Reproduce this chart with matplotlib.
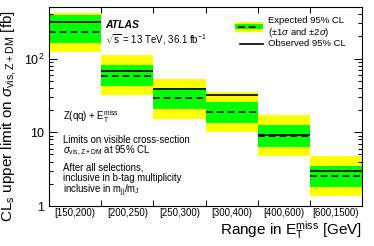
import numpy as np
import matplotlib
matplotlib.use("Agg")
import matplotlib.pyplot as plt
from matplotlib.patches import Rectangle
from matplotlib.lines import Line2D
from matplotlib.ticker import FixedLocator, FixedFormatter, LogLocator, NullFormatter

plt.rcParams['font.family'] = ['Liberation Sans', 'DejaVu Sans']
plt.rcParams['mathtext.fontset'] = 'custom'
plt.rcParams['mathtext.rm'] = 'Liberation Sans'
plt.rcParams['mathtext.it'] = 'Liberation Sans:italic'
plt.rcParams['mathtext.bf'] = 'Liberation Sans:bold'

categories = ['[150,200)', '[200,250)', '[250,300)', '[300,400)', '[400,600)', '[600,1500)']
observed = [316, 68.7, 38.7, 31.7, 9.04, 2.99]
expected = [226, 58.7, 28.8, 18.6, 8.88, 2.56]
plus1 = [391, 82.8, 39.4, 25.4, 12.5, 3.53]
minus1 = [164, 42.9, 20.7, 13.3, 6.41, 1.81]
plus2 = [419, 110, 52.9, 34.8, 16.9, 4.79]
minus2 = [122, 31.7, 15.3, 9.94, 4.79, 1.355]

fig = plt.figure(figsize=(3.74, 2.46), dpi=100)
ax = fig.add_axes([0.131, 0.1626, 0.837, 0.809])

x = np.arange(len(categories))
yellow = '#ffff00'
green = '#00ff00'
ax.bar(x, np.array(plus2) - np.array(minus2), bottom=minus2, width=1.0, align='edge',
       color=yellow, linewidth=0, zorder=1)
ax.bar(x, np.array(plus1) - np.array(minus1), bottom=minus1, width=1.0, align='edge',
       color=green, linewidth=0, zorder=2)
ax.hlines(expected, x, x + 1, colors='black', linestyles=(0, (4, 2.5)), linewidth=1.2, zorder=3)
ax.hlines(observed, x, x + 1, colors='black', linewidth=1.2, zorder=4)

ax.set_yscale('log')
ax.set_ylim(1, 500)
ax.set_xlim(0, len(categories))

ax.yaxis.set_major_locator(FixedLocator([1, 10, 100]))
ax.yaxis.set_major_formatter(FixedFormatter(['1', '10', '$10^2$']))
ax.yaxis.set_minor_locator(LogLocator(base=10, subs=np.arange(2, 10)))
ax.yaxis.set_minor_formatter(NullFormatter())

ax.set_xticks(np.arange(1, len(categories)))
ax.set_xticklabels([])
ax.set_xticks(x + 0.5, minor=True)
ax.set_xticklabels(categories, minor=True, fontsize=7)
ax.tick_params(axis='x', which='minor', length=0, pad=1.5)
ax.tick_params(axis='x', which='major', direction='in', length=4, top=True, width=0.7)
ax.tick_params(axis='y', which='major', direction='in', length=6, right=True, labelsize=9, width=0.7)
ax.tick_params(axis='y', which='minor', direction='in', length=3, right=True, width=0.7)
for s in ax.spines.values():
    s.set_linewidth(0.8)

ax.set_ylabel(r'CL$_\mathrm{s}$ upper limit on $\sigma_\mathrm{vis,Z+DM}$ [fb]', fontsize=11, loc='top')
ax.yaxis.set_label_coords(-0.098, 0.985)
ax.set_xlabel(r'Range in E$_\mathrm{T}^\mathrm{miss}$ [GeV]', fontsize=11, loc='right', labelpad=1)

# ATLAS label
ax.text(0.181, 0.907, 'ATLAS', transform=ax.transAxes, fontsize=7.5, fontweight='bold',
        fontstyle='italic', va='center')
ax.text(0.179, 0.838, r'$\sqrt{\mathrm{s}}$ = 13 TeV, 36.1 fb$^{-1}$', transform=ax.transAxes,
        fontsize=7, va='center')

# Legend
ax.add_patch(Rectangle((0.594, 0.876), 0.09, 0.049, transform=ax.transAxes,
                       facecolor=yellow, edgecolor='none', zorder=5))
ax.add_patch(Rectangle((0.594, 0.888), 0.09, 0.025, transform=ax.transAxes,
                       facecolor=green, edgecolor='none', zorder=6))
ax.add_line(Line2D([0.604, 0.675], [0.9, 0.9], transform=ax.transAxes, color='black',
                   linestyle=(0, (4, 2.5)), linewidth=1.2, zorder=7))
ax.add_line(Line2D([0.61, 0.684], [0.814, 0.814], transform=ax.transAxes, color='black',
                   linewidth=1.2, zorder=7))
ax.text(0.70, 0.931, 'Expected 95% CL', transform=ax.transAxes, fontsize=6.8, va='center')
ax.text(0.70, 0.871, r'($\pm$1$\sigma$ and $\pm$2$\sigma$)', transform=ax.transAxes, fontsize=6.8, va='center')
ax.text(0.70, 0.818, 'Observed 95% CL', transform=ax.transAxes, fontsize=6.8, va='center')

# Descriptive texts
fs = 6.9
ax.text(0.046, 0.449, r'Z(qq) + E$_\mathrm{T}^\mathrm{miss}$', transform=ax.transAxes, fontsize=fs, va='center')
ax.text(0.046, 0.33, 'Limits on visible cross-section', transform=ax.transAxes, fontsize=fs, va='center')
ax.text(0.046, 0.276, r'$\sigma_\mathrm{vis,Z+DM}$ at 95% CL', transform=ax.transAxes, fontsize=fs, va='center')
ax.text(0.046, 0.192, 'After all selections,', transform=ax.transAxes, fontsize=fs, va='center')
ax.text(0.046, 0.142, 'inclusive in b-tag multiplicity', transform=ax.transAxes, fontsize=fs, va='center')
ax.text(0.046, 0.076, r'inclusive in m$_\mathrm{jj}$/m$_\mathrm{J}$', transform=ax.transAxes, fontsize=fs, va='center')

fig.savefig('out.png', dpi=100)
